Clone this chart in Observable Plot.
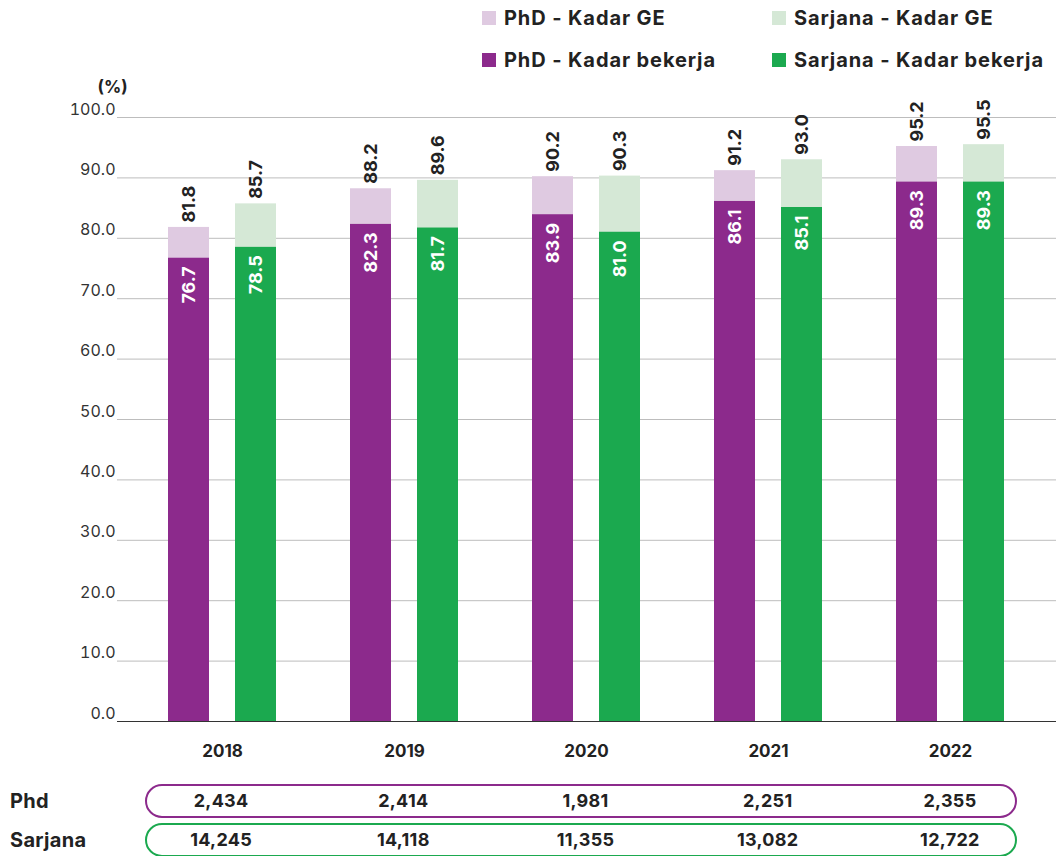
<!DOCTYPE html>
<html>
<head>
<meta charset="utf-8">
<script src="https://cdn.jsdelivr.net/npm/d3@7"></script>
<script src="https://cdn.jsdelivr.net/npm/@observablehq/plot@0.6"></script>
<style>
  body { margin: 0; background: #fff; font-family: Inter, "Open Sans", sans-serif; color: #222; }
  #wrap { position: relative; width: 1056px; height: 856px; overflow: hidden; }
  .lg { position: absolute; display: flex; align-items: center; font-weight: 700; font-size: 20px; letter-spacing: 0.9px; color: #222; height: 24px; }
  .sw { width: 14px; height: 14px; margin-right: 8px; }
  #chart { position: absolute; left: 0; top: 75px; }
  .rowlab { position: absolute; left: 10px; font-weight: 700; font-size: 20px; letter-spacing: 0.3px; height: 34px; line-height: 34px; color: #222; }
  .pill { position: absolute; left: 145px; width: 868px; height: 30px; border-radius: 17px; border: 2px solid; }
  .nums { position: absolute; left: 130px; width: 911px; height: 34px; display: flex; }
  .nums div { flex: 1; text-align: center; line-height: 34px; font-weight: 700; font-size: 18px; letter-spacing: 0.3px; color: #222; }
</style>
</head>
<body>
<div id="wrap"></div>
<script>
// ---- data ----
const years = ["2018", "2019", "2020", "2021", "2022"];
const phdGE = [81.8, 88.2, 90.2, 91.2, 95.2];
const phdKerja = [76.7, 82.3, 83.9, 86.1, 89.3];
const sarjanaGE = [85.7, 89.6, 90.3, 93.0, 95.5];
const sarjanaKerja = [78.5, 81.7, 81.0, 85.1, 89.3];
const phdCount = ["2,434", "2,414", "1,981", "2,251", "2,355"];
const sarjanaCount = ["14,245", "14,118", "11,355", "13,082", "12,722"];
const yTicks = [0, 10, 20, 30, 40, 50, 60, 70, 80, 90, 100];
const legendItems = [
  {label: "PhD - Kadar GE", color: "#dfcae1"},
  {label: "Sarjana - Kadar GE", color: "#d5e8d6"},
  {label: "PhD - Kadar bekerja", color: "#8c2a8c"},
  {label: "Sarjana - Kadar bekerja", color: "#1ba94f"}
];
const rowLabels = ["Phd", "Sarjana"];

const C = {phdL: "#dfcae1", phd: "#8c2a8c", sarL: "#d5e8d6", sar: "#1ba94f"};

const rows = years.map((y, i) => ({
  year: y, phdGE: phdGE[i], phdKerja: phdKerja[i], sarjanaGE: sarjanaGE[i], sarjanaKerja: sarjanaKerja[i]
}));

const wrap = document.getElementById("wrap");

// ---- legend ----
const legPos = [[482, 6], [772, 6], [482, 48], [772, 48]];
legendItems.forEach((it, i) => {
  const d = document.createElement("div");
  d.className = "lg";
  d.style.left = legPos[i][0] + "px";
  d.style.top = legPos[i][1] + "px";
  d.innerHTML = `<span class="sw" style="background:${it.color}"></span><span>${it.label}</span>`;
  wrap.appendChild(d);
});

// ---- chart ----
const inPhd = {insetLeft: 37, insetRight: 104};
const inSar = {insetLeft: 104, insetRight: 37};
const off = 33.5;
const lab = {rotate: -90, fontWeight: 700, fontSize: 18};

const chart = Plot.plot({
  width: 1056,
  height: 700,
  marginTop: 42,
  marginBottom: 54,
  marginLeft: 117,
  marginRight: 0,
  style: {fontFamily: "Inter, 'Open Sans', sans-serif", fontSize: "16px", color: "#333", background: "#fff"},
  x: {type: "band", domain: years, range: [130, 1041], padding: 0, label: null},
  y: {domain: [0, 100], label: null},
  marks: [
    Plot.gridY(yTicks, {stroke: "#bdbdbd", strokeOpacity: 1, strokeWidth: 1}),
    Plot.rectY(rows, {x: "year", y: "phdGE", fill: C.phdL, ...inPhd}),
    Plot.rectY(rows, {x: "year", y: "phdKerja", fill: C.phd, ...inPhd}),
    Plot.rectY(rows, {x: "year", y: "sarjanaGE", fill: C.sarL, ...inSar}),
    Plot.rectY(rows, {x: "year", y: "sarjanaKerja", fill: C.sar, ...inSar}),
    Plot.ruleY([0], {stroke: "#333", strokeWidth: 1.2}),
    Plot.text(rows, {x: "year", y: "phdGE", text: d => d.phdGE.toFixed(1), textAnchor: "start", dx: -off, dy: -5, fill: "#222", ...lab}),
    Plot.text(rows, {x: "year", y: "sarjanaGE", text: d => d.sarjanaGE.toFixed(1), textAnchor: "start", dx: off, dy: -5, fill: "#222", ...lab}),
    Plot.text(rows, {x: "year", y: "phdKerja", text: d => d.phdKerja.toFixed(1), textAnchor: "end", dx: -off, dy: 8, fill: "#fff", ...lab}),
    Plot.text(rows, {x: "year", y: "sarjanaKerja", text: d => d.sarjanaKerja.toFixed(1), textAnchor: "end", dx: off, dy: 8, fill: "#fff", ...lab}),
    Plot.axisY({ticks: yTicks, tickFormat: d => d.toFixed(1), tickSize: 0, tickPadding: 2, dy: -8, fontSize: 16, fill: "#333", label: null}),
    Plot.axisX({tickSize: 0, tickPadding: 23, fontSize: 17, fontWeight: 700, fill: "#222", label: null}),
    Plot.text(["(%)"], {frameAnchor: "top-left", dx: -20, dy: -37, fontWeight: 700, fontSize: 17, fill: "#222"})
  ]
});
chart.id = "chart";
wrap.appendChild(chart);

// ---- bottom table ----
const counts = [phdCount, sarjanaCount];
const colors = [C.phd, C.sar];
const tops = [784, 823];
rowLabels.forEach((labTxt, r) => {
  const l = document.createElement("div");
  l.className = "rowlab";
  l.style.top = tops[r] + "px";
  l.textContent = labTxt;
  wrap.appendChild(l);
  const p = document.createElement("div");
  p.className = "pill";
  p.style.top = tops[r] + "px";
  p.style.borderColor = colors[r];
  wrap.appendChild(p);
  const n = document.createElement("div");
  n.className = "nums";
  n.style.top = tops[r] + "px";
  counts[r].forEach(v => {
    const c = document.createElement("div");
    c.textContent = v;
    n.appendChild(c);
  });
  wrap.appendChild(n);
});
</script>
</body>
</html>
